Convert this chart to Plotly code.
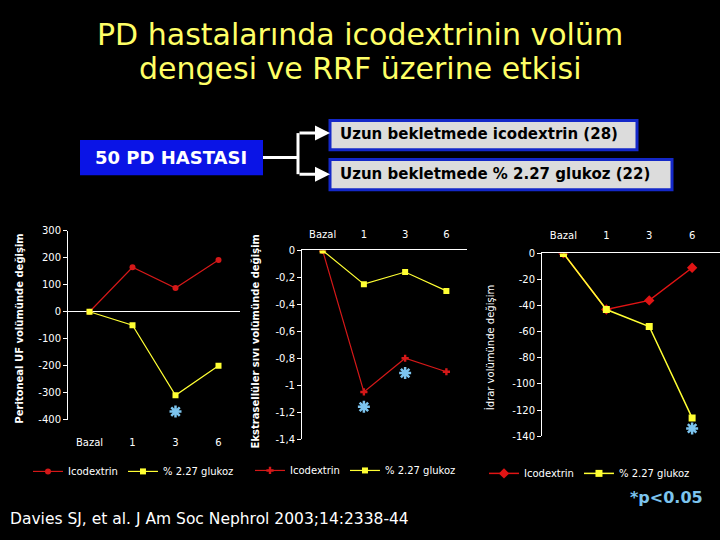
import plotly.graph_objects as go

# ---------------- data ----------------
categories = ["Bazal", "1", "3", "6"]
xpos = [0, 1, 2, 3]

uf_icodextrin = [0, 165, 88, 192]
uf_glukoz = [0, -50, -310, -200]
uf_star_x = [2]
uf_star_y = [-370]
uf_ticks = [300, 200, 100, 0, -100, -200, -300, -400]
uf_ticktext = ["300", "200", "100", "0", "-100", "-200", "-300", "-400"]

ecf_icodextrin = [0, -1.05, -0.8, -0.9]
ecf_glukoz = [0, -0.25, -0.16, -0.3]
ecf_star_x = [1, 2]
ecf_star_y = [-1.16, -0.91]
ecf_ticks = [0, -0.2, -0.4, -0.6, -0.8, -1.0, -1.2, -1.4]
ecf_ticktext = ["0", "-0,2", "-0,4", "-0,6", "-0,8", "-1", "-1,2", "-1,4"]

urine_icodextrin = [0, -43, -36, -11]
urine_glukoz = [0, -43, -56, -126]
urine_star_x = [3]
urine_star_y = [-134]
urine_ticks = [0, -20, -40, -60, -80, -100, -120, -140]
urine_ticktext = ["0", "-20", "-40", "-60", "-80", "-100", "-120", "-140"]

series_names = ["Icodextrin", "% 2.27 glukoz"]

W, H = 720, 540
RED = "#d41818"
RED3 = "#e01414"
YEL = "#ffff33"
STAR = "#7cc4ee"
FONT = "DejaVu Sans"

def px(x):
    return x / W

def py(y):
    return 1 - y / H

fig = go.Figure()

star_marker = dict(symbol="asterisk-open", size=10, color=STAR, line=dict(color=STAR, width=2.5))

# ---------- chart 1 ----------
fig.add_trace(go.Scatter(x=xpos, y=uf_icodextrin, name=series_names[0], mode="lines+markers",
                         line=dict(color=RED, width=1.2), marker=dict(symbol="circle", size=6, color=RED),
                         xaxis="x", yaxis="y", legend="legend"))
fig.add_trace(go.Scatter(x=xpos, y=uf_glukoz, name=series_names[1], mode="lines+markers",
                         line=dict(color=YEL, width=1.2), marker=dict(symbol="square", size=6, color=YEL),
                         xaxis="x", yaxis="y", legend="legend"))
fig.add_trace(go.Scatter(x=uf_star_x, y=uf_star_y, mode="markers", showlegend=False,
                         marker=star_marker, xaxis="x", yaxis="y"))

# ---------- chart 2 ----------
fig.add_trace(go.Scatter(x=xpos, y=ecf_icodextrin, name=series_names[0], mode="lines+markers",
                         line=dict(color=RED, width=1.2), marker=dict(symbol="cross", size=6, color=RED),
                         xaxis="x2", yaxis="y2", legend="legend2"))
fig.add_trace(go.Scatter(x=xpos, y=ecf_glukoz, name=series_names[1], mode="lines+markers",
                         line=dict(color=YEL, width=1.2), marker=dict(symbol="square", size=6, color=YEL),
                         xaxis="x2", yaxis="y2", legend="legend2"))
fig.add_trace(go.Scatter(x=ecf_star_x, y=ecf_star_y, mode="markers", showlegend=False,
                         marker=star_marker, xaxis="x2", yaxis="y2"))

# ---------- chart 3 ----------
fig.add_trace(go.Scatter(x=xpos, y=urine_icodextrin, name=series_names[0], mode="lines+markers",
                         line=dict(color=RED3, width=1.5), marker=dict(symbol="diamond", size=8, color=RED3),
                         xaxis="x3", yaxis="y3", legend="legend3"))
fig.add_trace(go.Scatter(x=xpos, y=urine_glukoz, name=series_names[1], mode="lines+markers",
                         line=dict(color=YEL, width=1.5), marker=dict(symbol="square", size=7, color=YEL),
                         xaxis="x3", yaxis="y3", legend="legend3"))
fig.add_trace(go.Scatter(x=urine_star_x, y=urine_star_y, mode="markers", showlegend=False,
                         marker=star_marker, xaxis="x3", yaxis="y3"))

tickfont = dict(family=FONT, size=10, color="white")

def xax(domain, rng, side, anchor, showline, standoff):
    return dict(domain=domain, range=rng, side=side, anchor=anchor, tickvals=xpos, ticktext=categories,
                showgrid=False, zeroline=False, showline=showline, linecolor="white", linewidth=1,
                ticks="", tickfont=tickfont, fixedrange=True, ticklabelstandoff=standoff)

def yax(domain, rng, anchor, tv, tt, zeroline):
    return dict(domain=domain, range=rng, anchor=anchor, tickvals=tv, ticktext=tt, showgrid=False,
                zeroline=zeroline, zerolinecolor="white", zerolinewidth=1, showline=True,
                linecolor="white", linewidth=1, ticks="outside", ticklen=4, tickcolor="white",
                tickfont=tickfont, fixedrange=True)

fig.update_layout(
    xaxis=xax([px(68), px(240)], [-0.5, 3.5], "bottom", "y", False, 15),
    yaxis=yax([py(423), py(230)], [-400, 300], "x", uf_ticks, uf_ticktext, True),
    xaxis2=xax([px(302), px(467)], [-0.5, 3.5], "top", "y2", True, 7),
    yaxis2=yax([py(443), py(250)], [-1.4, 0], "x2", ecf_ticks, ecf_ticktext, False),
    xaxis3=xax([px(542), 1.0], [-0.5, 3.65], "top", "y3", True, 9),
    yaxis3=yax([py(440), py(253)], [-140, 0], "x3", urine_ticks, urine_ticktext, False),
)

legfont = dict(family=FONT, size=10, color="white")
def leg(x, y):
    return dict(x=px(x), y=py(y), xanchor="left", yanchor="middle", orientation="h",
                bgcolor="rgba(0,0,0,0)", font=legfont, itemwidth=30, tracegroupgap=0)

fig.update_layout(legend=leg(28, 476), legend2=leg(250, 475), legend3=leg(484, 478))

# ---------- text & shapes ----------
def note(x, y, text, size, color, xanchor="center", yanchor="middle", angle=0):
    return dict(x=px(x), y=py(y), xref="paper", yref="paper", text=text, showarrow=False,
                xanchor=xanchor, yanchor=yanchor, textangle=angle,
                font=dict(family=FONT, size=size, color=color))

ann = [
    note(360, 29, "PD hastalarında icodextrinin volüm", 30, "#ffff66"),
    note(360, 64, "dengesi ve RRF üzerine etkisi", 30, "#ffff66"),
    note(171, 155, "<b>50 PD HASTASI</b>", 18, "white"),
    note(338, 131, "<b>Uzun bekletmede icodextrin (28)</b>", 15, "black", xanchor="left"),
    note(338, 172, "<b>Uzun bekletmede % 2.27 glukoz (22)</b>", 15, "black", xanchor="left"),
    note(20, 330, "<b>Peritoneal UF volümünde değişim</b>", 10, "white", angle=-90),
    note(255, 343, "<b>Ekstrasellüler sıvı volümünde değişim</b>", 10, "white", angle=-90),
    note(490, 350, "İdrar volümünde değişim", 10, "white", angle=-90),
    note(8, 525, "Davies SJ, et al. J Am Soc Nephrol 2003;14:2338-44", 15.5, "white", xanchor="left"),
    note(705, 503, "<b>*p<0.05</b>", 16, STAR, xanchor="right"),
]
# arrows of the flow diagram
for yy in (130, 172):
    ann.append(dict(x=px(330), y=py(yy), ax=-32, ay=0, xref="paper", yref="paper",
                    axref="pixel", ayref="pixel", text="", showarrow=True, arrowhead=2,
                    arrowsize=1, arrowwidth=3, arrowcolor="white"))
fig.update_layout(annotations=ann)

shapes = [
    dict(type="rect", xref="paper", yref="paper", x0=px(80), x1=px(263), y0=py(173), y1=py(137),
         fillcolor="#0a14e6", line=dict(width=0)),
    dict(type="rect", xref="paper", yref="paper", x0=px(330), x1=px(637), y0=py(147), y1=py(117),
         fillcolor="#dcdcdc", line=dict(color="#1428c8", width=3)),
    dict(type="rect", xref="paper", yref="paper", x0=px(330), x1=px(672), y0=py(188), y1=py(157),
         fillcolor="#dcdcdc", line=dict(color="#1428c8", width=3)),
    dict(type="line", xref="paper", yref="paper", x0=px(263), x1=px(298), y0=py(155), y1=py(155),
         line=dict(color="white", width=3)),
    dict(type="line", xref="paper", yref="paper", x0=px(298), x1=px(298), y0=py(130), y1=py(172),
         line=dict(color="white", width=3)),
]
fig.update_layout(shapes=shapes)

fig.update_layout(width=W, height=H, margin=dict(l=0, r=0, t=0, b=0), paper_bgcolor="black",
                  plot_bgcolor="black", font=dict(family=FONT, color="white"))

fig.write_html("out.html")
